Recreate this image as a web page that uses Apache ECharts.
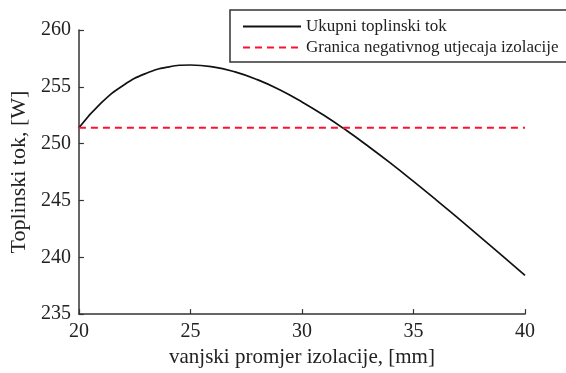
<!DOCTYPE html>
<html>
<head>
<meta charset="utf-8">
<script src="https://cdn.jsdelivr.net/npm/echarts@6/dist/echarts.min.js"></script>
<style>
html,body{margin:0;padding:0;background:#fff;}
#c{width:566px;height:373px;}
</style>
</head>
<body>
<div id="c"></div>
<script>
var diameters = [20,21,22,23,24,25,26,27,28,29,30,31,32,33,34,35,36,37,38,39,40];
var heatFlux = [251.4,253.58,255.14,256.17,256.74,256.92,256.76,256.31,255.63,254.74,253.67,252.47,251.15,249.73,248.24,246.68,245.08,243.44,241.78,240.10,238.40];
var limitX = [20,40];
var limitY = [251.4,251.4];
var seriesNames = ['Ukupni toplinski tok','Granica negativnog utjecaja izolacije'];
var xTitle = 'vanjski promjer izolacije, [mm]';
var yTitle = 'Toplinski tok, [W]';

var font = '"Liberation Serif","Times New Roman",serif';
var chart = echarts.init(document.getElementById('c'));
chart.setOption({
  animation:false,
  backgroundColor:'#fff',
  grid:{left:72,right:41,top:30,bottom:52},
  xAxis:{type:'value',min:20,max:40,interval:5,
    name:xTitle,nameLocation:'middle',nameGap:29,
    nameTextStyle:{fontFamily:font,fontSize:21,color:'#222'},
    axisLine:{show:true,onZero:false,lineStyle:{color:'#333',width:1.5}},
    axisTick:{show:true,inside:true,length:5,lineStyle:{color:'#333',width:1.2}},
    axisLabel:{fontFamily:font,fontSize:20,color:'#222',margin:8},
    splitLine:{show:false}},
  yAxis:{type:'value',min:235,max:260,interval:5,
    name:yTitle,nameLocation:'middle',nameGap:40,
    nameTextStyle:{fontFamily:font,fontSize:22,color:'#222'},
    axisLine:{show:true,lineStyle:{color:'#333',width:1.5}},
    axisTick:{show:true,inside:true,length:5,lineStyle:{color:'#333',width:1.2}},
    axisLabel:{fontFamily:font,fontSize:20,color:'#222',margin:8},
    splitLine:{show:false}},
  legend:{orient:'vertical',left:237,top:13,itemWidth:58,itemHeight:10,itemGap:4,
    itemStyle:{opacity:0},
    textStyle:{fontFamily:font,fontSize:17,color:'#222'},
    data:seriesNames},
  graphic:[{type:'rect',shape:{x:230,y:10,width:360,height:52},
    style:{fill:'none',stroke:'#333',lineWidth:1.5},z:100}],
  series:[
    {name:seriesNames[0],type:'line',smooth:true,symbol:'none',
     data:diameters.map(function(d,i){return [d,heatFlux[i]];}),
     lineStyle:{color:'#111',width:1.7},itemStyle:{color:'#111'}},
    {name:seriesNames[1],type:'line',symbol:'none',
     data:limitX.map(function(d,i){return [d,limitY[i]];}),
     lineStyle:{color:'#ff1030',width:2.2,type:[7,5]},itemStyle:{color:'#ff1030'}}
  ]
});
</script>
</body>
</html>
